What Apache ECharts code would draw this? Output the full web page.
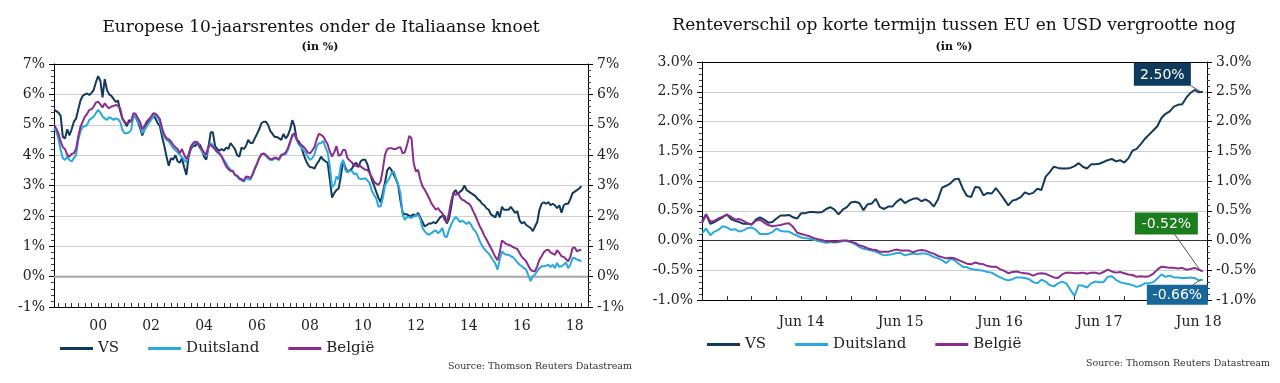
<!DOCTYPE html>
<html><head><meta charset="utf-8">
<script src="https://cdn.jsdelivr.net/npm/echarts@6/dist/echarts.min.js"></script>
<style>
html,body{margin:0;padding:0;background:#fff;}
#wrap{position:relative;width:1280px;height:383px;}
#c1{position:absolute;left:0;top:0;width:640px;height:383px;}
#c2{position:absolute;left:640px;top:0;width:640px;height:383px;}
</style>
</head><body><div id="wrap"><div id="c1"></div><div id="c2"></div></div>
<script>
// ---------- DATA: left chart (monthly, May 1998 .. Apr 2018), 10y yields in % ----------
const VS_L = [5.5,5.45,5.4,5.3,4.6,4.55,4.85,4.65,4.85,5.1,5.2,5.5,5.8,5.95,6.0,6.03,5.98,6.05,6.15,6.4,
6.6,6.45,5.9,6.5,6.15,6.0,5.95,5.85,5.75,5.8,5.45,5.2,5.1,4.95,5.15,5.1,5.3,5.25,5.1,4.9,
4.65,4.85,5.05,5.1,5.2,5.3,5.2,5.05,4.95,4.6,4.3,3.95,3.65,3.9,3.85,4.0,3.8,3.75,3.9,3.6,
3.35,3.95,4.2,4.3,4.3,4.4,4.35,4.2,3.95,3.85,4.25,4.75,4.75,4.3,4.2,4.15,4.2,4.15,4.25,4.2,
4.4,4.3,4.2,4.0,3.95,4.25,4.2,4.3,4.5,4.4,4.4,4.55,4.7,4.85,5.05,5.1,5.1,5.0,4.8,4.7,
4.6,4.6,4.55,4.5,4.7,4.55,4.65,4.85,5.15,4.95,4.5,4.45,4.3,4.05,3.85,3.7,3.6,3.6,3.55,3.7,
3.8,
3.95,3.85,3.8,3.75,3.2,2.6,2.75,2.85,2.9,3.3,3.8,3.6,3.45,3.5,3.55,3.7,3.75,3.6,3.8,
3.85,3.85,3.7,3.45,3.2,3.0,2.8,2.6,2.45,2.75,3.1,3.5,
3.6,3.5,3.35,3.2,3.0,2.5,2.1,2.05,2.05,2.0,2.0,2.05,
2.0,2.1,1.95,1.8,1.65,1.7,1.75,1.75,1.8,1.75,1.85,1.95,
2.0,2.0,1.75,1.9,2.3,2.75,2.85,2.7,2.8,2.85,3.0,2.85,
2.8,2.75,2.7,2.65,2.55,2.5,2.4,2.35,2.25,2.2,2.05,2.0,
1.95,2.15,1.95,2.3,2.2,2.2,2.2,2.3,2.2,2.1,2.15,1.85,
1.75,1.8,1.7,1.65,1.6,1.5,1.65,1.8,2.2,2.4,2.45,2.4,
2.45,2.35,2.4,2.35,2.25,2.35,2.1,2.35,2.4,2.4,2.55,2.75,
2.8,2.85,2.9,2.98];
const DE_L = [4.88,4.78,4.55,4.17,3.9,3.84,3.95,3.84,3.79,3.9,4.0,4.5,4.78,4.94,4.94,5.0,5.16,5.21,5.27,5.38,
5.49,5.4,5.27,5.21,5.16,5.25,5.21,5.16,5.21,5.18,5.1,4.83,4.72,4.72,4.75,4.83,5.32,5.27,5.1,5.0,
4.72,4.83,4.94,5.05,5.16,5.32,5.29,5.25,5.1,4.78,4.61,4.5,4.45,4.34,4.23,4.17,4.09,4.01,3.93,3.84,
3.76,4.01,4.26,4.34,4.39,4.45,4.26,4.12,4.04,3.95,4.28,4.39,4.34,4.17,4.09,4.03,3.95,3.84,3.73,3.6,
3.52,3.46,3.35,3.3,3.21,3.17,3.13,3.24,3.21,3.19,3.35,3.52,3.73,3.9,4.04,4.04,3.98,3.9,3.84,3.84,
3.9,3.87,3.84,3.98,4.01,4.03,4.17,4.39,4.61,4.67,4.5,4.34,4.26,4.17,4.09,3.95,3.84,3.9,4.01,4.28,
4.39,
4.39,4.47,4.26,4.09,3.63,2.95,3.02,3.3,3.19,3.68,3.84,3.52,3.43,3.49,3.48,3.37,3.41,3.24,3.21,
3.22,3.24,3.17,3.08,2.84,2.69,2.58,2.31,2.31,2.58,3.0,3.13,
3.24,3.41,3.46,3.24,3.02,2.75,2.04,1.87,1.96,1.96,1.93,1.98,
2.02,2.04,1.9,1.6,1.49,1.41,1.38,1.43,1.49,1.52,1.43,1.49,
1.6,1.33,1.3,1.54,1.71,1.87,1.96,1.9,1.79,1.85,1.79,1.73,
1.8,1.71,1.57,1.49,1.35,1.16,1.02,0.91,0.83,0.76,0.65,0.54,
0.43,0.23,0.56,0.83,0.76,0.72,0.72,0.67,0.64,0.56,0.47,0.39,
0.34,0.28,0.23,0.03,-0.15,0.01,0.07,0.18,0.28,0.34,0.34,0.36,
0.39,0.32,0.39,0.28,0.45,0.32,0.34,0.39,0.47,0.28,0.39,0.61,
0.61,0.56,0.54,0.5];
const BE_L = [5.0,4.88,4.72,4.45,4.26,4.2,4.01,3.95,4.04,4.06,4.2,4.61,4.94,5.1,5.27,5.36,5.49,5.51,5.6,5.73,
5.76,5.67,5.57,5.71,5.6,5.54,5.6,5.62,5.65,5.62,5.54,5.21,5.07,5.05,5.07,5.13,5.38,5.36,5.21,5.1,
4.85,4.96,5.1,5.18,5.27,5.38,5.36,5.29,5.18,4.88,4.67,4.56,4.52,4.45,4.34,4.26,4.2,4.06,4.2,4.01,
3.87,4.01,4.28,4.39,4.45,4.39,4.26,4.2,4.09,4.01,4.3,4.34,4.26,4.2,4.12,4.06,3.95,3.79,3.63,3.54,
3.48,3.49,3.35,3.32,3.24,3.21,3.15,3.3,3.28,3.24,3.37,3.57,3.71,3.9,4.03,4.06,4.01,3.93,3.87,3.87,
3.92,3.9,3.87,4.01,4.03,4.09,4.23,4.45,4.67,4.72,4.52,4.39,4.34,4.28,4.2,4.09,4.06,4.15,4.26,4.5,
4.7,
4.67,4.61,4.48,4.36,4.12,3.95,4.09,4.3,3.98,4.01,4.17,4.17,3.9,3.82,3.76,3.65,3.65,3.68,3.63,
3.57,3.52,3.52,3.41,3.28,3.13,3.06,3.02,3.13,3.52,4.01,4.2,
4.23,4.23,4.2,4.2,4.25,4.26,4.06,4.09,4.34,4.63,4.56,3.73,
3.46,3.52,3.19,2.97,2.86,2.73,2.58,2.42,2.31,2.2,2.26,2.15,
2.09,1.87,1.79,2.09,2.48,2.75,2.69,2.75,2.62,2.53,2.5,2.44,
2.4,2.31,2.15,2.0,1.82,1.65,1.52,1.35,1.22,1.08,0.94,0.8,
0.65,0.54,0.8,1.19,1.13,1.07,1.05,1.02,0.97,0.94,0.91,0.78,
0.65,0.58,0.5,0.36,0.23,0.18,0.18,0.34,0.56,0.67,0.8,0.87,
0.89,0.8,0.76,0.72,0.87,0.78,0.67,0.65,0.58,0.5,0.65,0.94,
0.96,0.83,0.87,0.89];

// ---------- DATA: right chart (half-monthly, Jun 2013 .. Jun 2018), short-rate spread vs EUR in % ----------
const VS_R = [0.32,0.44,0.28,0.31,0.35,0.39,0.44,0.36,0.33,0.31,
0.28,0.28,0.27,0.35,0.39,0.35,0.3,0.31,0.37,0.42,
0.42,0.43,0.39,0.37,0.46,0.46,0.48,0.48,0.47,0.48,
0.53,0.56,0.52,0.44,0.52,0.56,0.64,0.65,0.63,0.51,
0.61,0.62,0.7,0.56,0.53,0.57,0.57,0.65,0.7,0.63,
0.67,0.7,0.71,0.66,0.69,0.65,0.57,0.69,0.89,0.92,
0.96,1.03,1.04,0.87,0.75,0.73,0.9,0.89,0.76,0.8,
0.79,0.88,0.79,0.69,0.59,0.67,0.69,0.73,0.81,0.78,
0.8,0.87,0.85,1.07,1.15,1.24,1.22,1.21,1.21,1.22,
1.25,1.3,1.24,1.21,1.28,1.28,1.29,1.32,1.35,1.37,
1.33,1.35,1.31,1.38,1.51,1.54,1.62,1.71,1.78,1.85,
1.92,2.06,2.13,2.17,2.25,2.28,2.29,2.4,2.48,2.53,
2.49,2.5];
const DE_R = [0.12,0.2,0.09,0.15,0.18,0.24,0.22,0.18,0.19,0.15,
0.17,0.21,0.22,0.18,0.11,0.11,0.11,0.14,0.2,0.16,
0.15,0.15,0.11,0.08,0.05,0.04,0.03,0.01,-0.01,-0.02,
-0.04,-0.03,-0.03,-0.03,-0.01,-0.01,-0.03,-0.06,-0.11,-0.14,
-0.15,-0.17,-0.19,-0.22,-0.25,-0.24,-0.23,-0.21,-0.21,-0.25,
-0.23,-0.22,-0.23,-0.22,-0.22,-0.24,-0.28,-0.3,-0.33,-0.38,
-0.31,-0.33,-0.39,-0.44,-0.45,-0.48,-0.49,-0.5,-0.51,-0.53,
-0.54,-0.58,-0.62,-0.65,-0.67,-0.65,-0.62,-0.62,-0.63,-0.65,
-0.7,-0.72,-0.66,-0.69,-0.75,-0.77,-0.72,-0.69,-0.72,-0.83,
-0.93,-0.75,-0.76,-0.79,-0.72,-0.69,-0.7,-0.7,-0.61,-0.6,
-0.66,-0.7,-0.72,-0.73,-0.75,-0.78,-0.76,-0.72,-0.72,-0.7,
-0.64,-0.57,-0.61,-0.59,-0.62,-0.62,-0.63,-0.63,-0.62,-0.63,
-0.67,-0.66];
const BE_R = [0.29,0.44,0.32,0.33,0.37,0.4,0.43,0.4,0.35,0.36,
0.33,0.29,0.27,0.33,0.35,0.3,0.26,0.24,0.25,0.26,
0.28,0.29,0.23,0.13,0.11,0.09,0.07,0.04,0.02,0.01,
-0.02,-0.01,-0.03,-0.01,0.0,0.0,-0.02,-0.04,-0.08,-0.1,
-0.13,-0.15,-0.16,-0.19,-0.19,-0.19,-0.17,-0.15,-0.17,-0.17,
-0.17,-0.2,-0.17,-0.16,-0.17,-0.2,-0.22,-0.26,-0.28,-0.3,
-0.29,-0.3,-0.33,-0.36,-0.39,-0.4,-0.37,-0.39,-0.4,-0.43,
-0.44,-0.44,-0.48,-0.51,-0.55,-0.53,-0.52,-0.54,-0.55,-0.56,
-0.59,-0.56,-0.55,-0.56,-0.59,-0.62,-0.63,-0.57,-0.54,-0.54,
-0.55,-0.55,-0.54,-0.56,-0.54,-0.54,-0.56,-0.53,-0.49,-0.52,
-0.54,-0.53,-0.55,-0.57,-0.58,-0.61,-0.6,-0.61,-0.6,-0.56,
-0.49,-0.44,-0.45,-0.46,-0.46,-0.47,-0.46,-0.49,-0.48,-0.46,
-0.49,-0.52];

const SERIES_NAMES = ['VS', 'Duitsland', 'België'];
const LEFT_Y_TICKS = [-1, 7, 1];       // min, max, step
const RIGHT_Y_TICKS = [-1, 3, 0.5];
const RIGHT_LABELS = ['2.50%', '-0.52%', '-0.66%'];

// category axes (time) built from start dates
const leftCats = [];
for (let k = 0; k < 243; k++) {
  const t = 4 + k; const y = 1998 + Math.floor(t / 12); const mo = t % 12 + 1;
  leftCats.push(y + '-' + (mo < 10 ? '0' : '') + mo);
}
const rightCats = [];
for (let k = 0; k < 123; k++) {
  const t = 5 + Math.floor(k / 2); const y = 2013 + Math.floor(t / 12); const mo = t % 12 + 1;
  rightCats.push(y + '-' + (mo < 10 ? '0' : '') + mo + (k % 2 ? 'b' : 'a'));
}

// ---------- STYLE ----------
const COLORS = ['#13395c', '#2aa9de', '#8a2d8c'];
const SERIF = "'DejaVu Serif', serif";
const SANS = "'DejaVu Sans', sans-serif";
const TXT = '#222';
const GRID = '#cfcfcf';

function yAxisDef(r, pos, fmt, splitColors) {
  return {
    type: 'value', position: pos, min: r[0], max: r[1], interval: r[2],
    axisLine: { show: true, lineStyle: { color: '#000', width: 1 } },
    axisTick: { show: true, length: 5, lineStyle: { color: '#000' } },
    minorTick: { show: true, splitNumber: 5, length: 3, lineStyle: { color: '#444' } },
    axisLabel: { formatter: fmt, fontFamily: SERIF, fontSize: 14, color: TXT, margin: 9 },
    splitLine: { show: !!splitColors, lineStyle: { color: splitColors || GRID, width: 1 } }
  };
}

function legendDef(left, top) {
  return {
    left: left, top: top, padding: 0, icon: 'rect', itemWidth: 33, itemHeight: 3, itemGap: 29,
    textStyle: { fontFamily: SERIF, fontSize: 15, color: TXT },
    data: SERIES_NAMES
  };
}

function lineSeries(name, data, color) {
  return {
    name: name, type: 'line', data: data, showSymbol: false, symbol: 'none',
    lineStyle: { color: color, width: 2 }, itemStyle: { color: color },
    animation: false, z: 3
  };
}

// ---------- LEFT CHART ----------
const c1 = echarts.init(document.getElementById('c1'));
c1.setOption({
  animation: false,
  grid: { left: 54, right: 52, top: 64, bottom: 76 },
  xAxis: {
    type: 'category', data: leftCats, boundaryGap: false,
    axisLine: { onZero: false, lineStyle: { color: '#000' } },
    axisTick: { inside: true, length: 4, lineStyle: { color: '#333' },
      interval: (i, v) => ['01', '04', '07', '10'].includes(v.slice(5)) },
    axisLabel: { interval: (i, v) => v.slice(5) === '01' && parseInt(v) % 2 === 0,
      formatter: v => v.slice(2, 4), fontFamily: SERIF, fontSize: 14, color: TXT, margin: 12 },
    splitLine: { show: false }
  },
  yAxis: [
    yAxisDef(LEFT_Y_TICKS, 'left', v => v + '%', ['#000', '#a8a8a8', GRID, GRID, GRID, GRID, GRID, GRID, '#000']),
    yAxisDef(LEFT_Y_TICKS, 'right', v => v + '%', null)
  ],
  legend: legendDef(60, 341),
  series: [
    lineSeries(SERIES_NAMES[0], VS_L, COLORS[0]),
    lineSeries(SERIES_NAMES[1], DE_L, COLORS[1]),
    lineSeries(SERIES_NAMES[2], BE_L, COLORS[2])
  ]
});
// thicker grey zero line, placed through the axis scale
const z0a = c1.convertToPixel({ gridIndex: 0 }, [0, 0]);
const z0b = c1.convertToPixel({ gridIndex: 0 }, [leftCats.length - 1, 0]);
c1.setOption({
  graphic: [
    { type: 'line', shape: { x1: z0a[0], y1: z0a[1], x2: z0b[0], y2: z0b[1] }, style: { stroke: '#a8a8a8', lineWidth: 2 }, z: 1, silent: true },
    { type: 'text', x: 321, y: 28, style: { text: 'Europese 10-jaarsrentes onder de Italiaanse knoet',
      font: '17px ' + SERIF, fill: '#111', textAlign: 'center', textVerticalAlign: 'middle' } },
    { type: 'text', x: 320, y: 47, style: { text: '(in %)', font: 'bold 11px ' + SERIF, fill: '#111',
      textAlign: 'center', textVerticalAlign: 'middle' } },
    { type: 'text', x: 632, y: 367, style: { text: 'Source: Thomson Reuters Datastream',
      font: '9.5px ' + SERIF, fill: '#333', textAlign: 'right', textVerticalAlign: 'middle' } }
  ]
});

// ---------- RIGHT CHART ----------
const c2 = echarts.init(document.getElementById('c2'));
const MON = { '03': 'Mar', '06': 'Jun', '09': 'Sep', '12': 'Dec' };
c2.setOption({
  animation: false,
  grid: { left: 62, right: 73, top: 62, bottom: 83 },
  xAxis: {
    type: 'category', data: rightCats, boundaryGap: false,
    axisLine: { onZero: false, lineStyle: { color: '#000' } },
    axisTick: { inside: true, length: 4, lineStyle: { color: '#333' },
      interval: (i, v) => v.endsWith('a') && ['03', '06', '09', '12'].includes(v.slice(5, 7)) },
    axisLabel: { interval: (i, v) => v.slice(5) === '06a' && parseInt(v) >= 2014,
      formatter: v => MON[v.slice(5, 7)] + ' ' + v.slice(2, 4), fontFamily: SERIF, fontSize: 14, color: TXT, margin: 15 },
    splitLine: { show: false }
  },
  yAxis: [
    yAxisDef(RIGHT_Y_TICKS, 'left', v => v.toFixed(1) + '%', ['#000', GRID, '#333', GRID, GRID, GRID, GRID, GRID, '#000']),
    yAxisDef(RIGHT_Y_TICKS, 'right', v => v.toFixed(1) + '%', null)
  ],
  legend: legendDef(67, 337),
  series: [
    lineSeries(SERIES_NAMES[0], VS_R, COLORS[0]),
    lineSeries(SERIES_NAMES[1], DE_R, COLORS[1]),
    lineSeries(SERIES_NAMES[2], BE_R, COLORS[2])
  ]
});

// end-value call-outs, anchored to the last data point of each series
const last = VS_R.length - 1;
const pVS = c2.convertToPixel({ seriesIndex: 0 }, [last, VS_R[last]]);
const pBE = c2.convertToPixel({ seriesIndex: 2 }, [last, BE_R[last]]);
const pDE = c2.convertToPixel({ seriesIndex: 1 }, [last, DE_R[last]]);
function callout(p, text, fill, bx, by, bw, bh, lx, ly) {
  return [
    { type: 'line', shape: { x1: p[0] + lx, y1: p[1] + ly, x2: p[0] - 2, y2: p[1] }, style: { stroke: '#555', lineWidth: 1 }, z: 100 },
    { type: 'rect', shape: { x: p[0] + bx, y: p[1] + by, width: bw, height: bh }, style: { fill: fill }, z: 101 },
    { type: 'text', x: p[0] + bx + bw / 2, y: p[1] + by + bh / 2 + 1, style: { text: text, font: '14px ' + SANS, fill: '#fff',
      textAlign: 'center', textVerticalAlign: 'middle' }, z: 102 }
  ];
}
c2.setOption({
  graphic: [
    { type: 'text', x: 314, y: 26, style: { text: 'Renteverschil op korte termijn tussen EU en USD vergrootte nog',
      font: '17px ' + SERIF, fill: '#111', textAlign: 'center', textVerticalAlign: 'middle' } },
    { type: 'text', x: 314, y: 47, style: { text: '(in %)', font: 'bold 11px ' + SERIF, fill: '#111',
      textAlign: 'center', textVerticalAlign: 'middle' } },
    { type: 'text', x: 630, y: 364, style: { text: 'Source: Thomson Reuters Datastream',
      font: '9.5px ' + SERIF, fill: '#333', textAlign: 'right', textVerticalAlign: 'middle' } }
  ].concat(
    callout(pVS, RIGHT_LABELS[0], '#0e3a5e', -69, -29, 57, 23, -12, -6),
    callout(pBE, RIGHT_LABELS[1], '#1c7d1c', -68, -59, 63, 22, -28, -37),
    callout(pDE, RIGHT_LABELS[2], '#17679a', -56, 5, 61, 20, -10, 5)
  )
});
</script></body></html>
